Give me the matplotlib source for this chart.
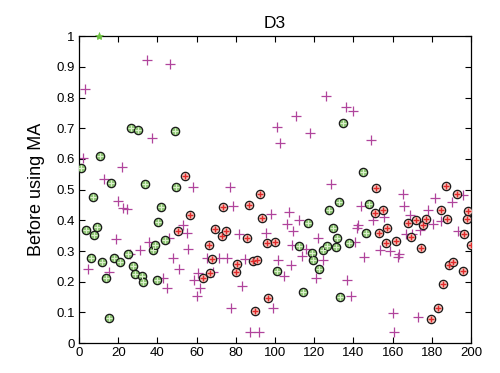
import matplotlib
matplotlib.use("Agg")
import matplotlib.pyplot as plt

plt.rcParams['font.family'] = ['Liberation Sans', 'DejaVu Sans']

green_x = [1.0, 3.6, 6.0, 7.0, 7.8, 9.0, 10.0, 10.7, 11.9, 13.8, 15.5, 16.5, 17.9, 20.9, 25.2, 26.5, 27.7, 28.6,
           30.1, 32.0, 32.8, 33.8, 37.9, 38.8, 39.6, 40.5, 41.7, 43.9, 49.0, 49.5,
           100.9, 112.1, 114.4, 116.7, 118.9, 119.5, 122.4, 124.7, 126.7, 127.7, 129.8, 131.1, 131.8, 132.7,
           133.3, 134.5, 137.8, 144.7, 146.4, 147.8]
green_y = [0.569, 0.368, 0.279, 0.477, 0.352, 0.377, 1.0, 0.609, 0.263, 0.213, 0.082, 0.522, 0.279, 0.263, 0.292,
           0.701, 0.251, 0.225, 0.694, 0.220, 0.198, 0.517, 0.303, 0.321, 0.207, 0.395, 0.442, 0.336, 0.690, 0.509,
           0.235, 0.316, 0.167, 0.392, 0.294, 0.270, 0.240, 0.303, 0.316, 0.433, 0.374, 0.312, 0.344, 0.460,
           0.149, 0.716, 0.325, 0.556, 0.360, 0.453]

red_x = [50.7, 53.9, 56.6, 63.4, 66.2, 66.8, 67.7, 69.4, 72.8, 73.6, 74.8, 79.9, 80.6, 85.7, 86.6, 88.9, 90.0,
         91.0, 92.3, 93.5, 95.9, 96.6, 100.0,
         150.9, 151.5, 152.9, 154.9, 156.6, 157.3, 161.7, 167.7, 169.2, 171.9, 174.5, 175.7, 177.0, 179.6, 183.0,
         184.7, 185.6, 187.2, 187.6, 188.8, 191.0, 193.0, 196.1, 196.6, 197.8, 198.3, 200.0]
red_y = [0.366, 0.545, 0.416, 0.211, 0.319, 0.227, 0.274, 0.371, 0.349, 0.442, 0.365, 0.231, 0.257, 0.343, 0.450,
         0.267, 0.104, 0.270, 0.485, 0.409, 0.327, 0.146, 0.330,
         0.424, 0.506, 0.360, 0.435, 0.325, 0.376, 0.333, 0.390, 0.346, 0.401, 0.310, 0.384, 0.404, 0.078, 0.115,
         0.435, 0.192, 0.512, 0.404, 0.256, 0.263, 0.485, 0.235, 0.357, 0.404, 0.430, 0.319]

purple_x = [2.2, 3.1, 4.8, 12.9, 15.5, 18.9, 20.1, 21.8, 22.6, 24.3, 26.0, 31.1, 34.9, 35.9, 37.2, 43.0, 44.7,
            45.8, 46.4, 48.1, 51.2, 52.9, 54.9, 55.8, 58.0, 58.8, 60.0, 60.9, 61.7, 65.1, 68.5, 71.6, 75.7,
            77.0, 77.6, 78.7, 81.8, 83.0, 84.7, 87.2, 92.0, 95.3, 97.8, 98.8, 101.2, 101.7, 102.6, 104.6,
            106.0, 107.3, 108.0, 108.8, 109.3, 110.7, 112.4, 113.8, 115.8, 117.9, 120.8, 121.8, 124.3, 125.9,
            128.6, 136.2, 136.9, 138.8, 140.0, 140.8, 141.7, 142.5, 143.9, 145.6, 148.8, 149.8, 153.6, 155.8,
            158.7, 160.0, 160.9, 162.9, 163.4, 165.2, 166.0, 166.8, 168.9, 169.7, 172.8, 174.0, 178.2, 180.5,
            181.6, 184.7, 190.2, 193.5, 195.8]
purple_y = [0.603, 0.827, 0.243, 0.535, 0.232, 0.340, 0.464, 0.574, 0.439, 0.436, 0.292, 0.303, 0.924, 0.328,
            0.667, 0.211, 0.181, 0.343, 0.908, 0.279, 0.240, 0.384, 0.360, 0.306, 0.509, 0.205, 0.154, 0.227,
            0.181, 0.276, 0.231, 0.276, 0.279, 0.509, 0.115, 0.448, 0.357, 0.186, 0.274, 0.035, 0.037, 0.360,
            0.420, 0.115, 0.705, 0.270, 0.652, 0.219, 0.387, 0.427, 0.254, 0.319, 0.365, 0.739, 0.401, 0.284,
            0.306, 0.685, 0.211, 0.344, 0.270, 0.805, 0.520, 0.768, 0.205, 0.153, 0.757, 0.330, 0.376, 0.384,
            0.447, 0.281, 0.661, 0.401, 0.303, 0.411, 0.301, 0.097, 0.037, 0.281, 0.292, 0.485, 0.448, 0.355,
            0.417, 0.357, 0.086, 0.368, 0.433, 0.388, 0.473, 0.397, 0.460, 0.366, 0.482]

x_ticks = list(range(0, 201, 20))
y_ticks = [0, 0.1, 0.2, 0.3, 0.4, 0.5, 0.6, 0.7, 0.8, 0.9, 1]
y_tick_labels = ['0', '0.1', '0.2', '0.3', '0.4', '0.5', '0.6', '0.7', '0.8', '0.9', '1']

# points sitting on the top edge show only their inner green cross in the reference
gin = [(x, y) for x, y in zip(green_x, green_y) if y < 1]
gedge = [(x, y) for x, y in zip(green_x, green_y) if y >= 1]

fig = plt.figure(figsize=(5.0, 3.73), dpi=100)
ax = fig.add_axes([0.158, 0.080, 0.784, 0.823])

ax.plot(purple_x, purple_y, linestyle='none', marker='+', markersize=7, markeredgewidth=0.9,
        color='#b0449c', zorder=2)
ax.plot([p[0] for p in gin], [p[1] for p in gin], linestyle='none', marker='o', markersize=6,
        markerfacecolor='#8cc474', markeredgecolor='#1a1a1a', markeredgewidth=0.9, zorder=3)
ax.plot([p[0] for p in gin], [p[1] for p in gin], linestyle='none', marker='+', markersize=4.5,
        markeredgewidth=0.8, color='#dcf0cc', zorder=4)
ax.plot([p[0] for p in gedge], [p[1] for p in gedge], linestyle='none', marker='*', markersize=6,
        markeredgewidth=0.5, color='#6cc040', zorder=4, clip_on=False)
ax.plot(red_x, red_y, linestyle='none', marker='o', markersize=6, markerfacecolor='#f4c4bc',
        markeredgecolor='#1a1a1a', markeredgewidth=0.9, zorder=3)
ax.plot(red_x, red_y, linestyle='none', marker='+', markersize=5, markeredgewidth=1.0,
        color='#e02a2a', zorder=4)

ax.set_xlim(0, 200)
ax.set_ylim(0, 1)
ax.set_xticks(x_ticks)
ax.set_yticks(y_ticks)
ax.set_yticklabels(y_tick_labels)
ax.tick_params(direction='in', top=True, right=True, labelsize=9.5, length=4, width=0.8, pad=3)
for s in ax.spines.values():
    s.set_linewidth(0.9)

ax.set_title('D3', fontsize=12.5, pad=6)
ax.set_ylabel('Before using MA', fontsize=13, labelpad=8)

fig.savefig('out.png', dpi=100)
